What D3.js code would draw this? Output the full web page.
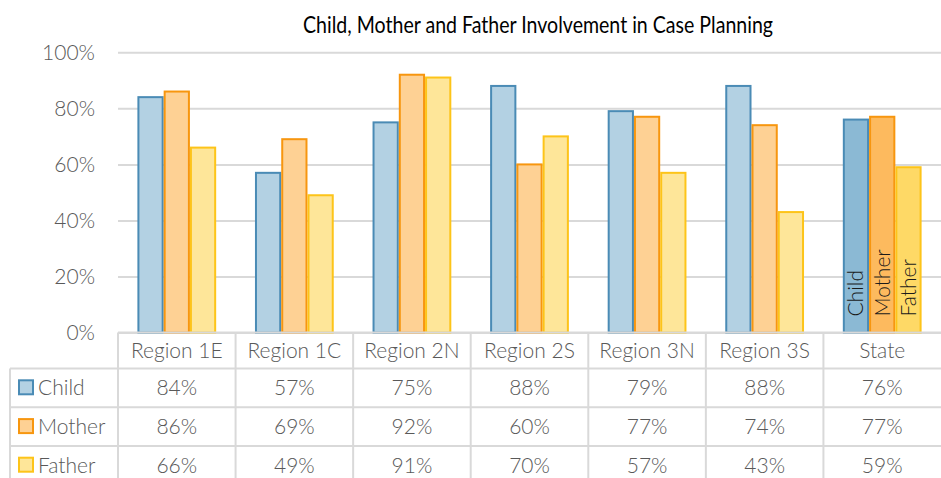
<!DOCTYPE html>
<html>
<head>
<meta charset="utf-8">
<script src="https://cdn.jsdelivr.net/npm/d3@7"></script>
<style>
  body { margin: 0; background: #fff; }
  svg { display: block; font-family: Lato, "Open Sans", sans-serif; }
</style>
</head>
<body>
<div id="chart"></div>
<script>
// chart data
const regions = ['Region 1E', 'Region 1C', 'Region 2N', 'Region 2S', 'Region 3N', 'Region 3S', 'State'];
const seriesNames = ['Child', 'Mother', 'Father'];
const child = [84, 57, 75, 88, 79, 88, 76];
const mother = [86, 69, 92, 60, 77, 74, 77];
const father = [66, 49, 91, 70, 57, 43, 59];
const yTicks = [0, 20, 40, 60, 80, 100];

const values = [child, mother, father];
const fills = ['#b3d1e3', '#fed194', '#fee699'];
const stateFills = ['#8bb9d4', '#fdba5e', '#fed966'];
const strokes = ['#4a8bb5', '#f7960f', '#fdc419'];

const width = 941;
const height = 478;
const plot = { left: 118, right: 941, top: 52.3, bottom: 332.6 };
const rowTops = [332.6, 368.5, 407.3, 445.9];
const rowH = 38.6;
const textGray = '#595959';

const svg = d3.select('#chart')
  .append('svg')
  .attr('width', width)
  .attr('height', height);

const x0 = d3.scaleBand()
  .domain(regions)
  .range([plot.left, plot.right])
  .paddingInner(0.33)
  .paddingOuter(0.165);

const x1 = d3.scaleBand()
  .domain(seriesNames)
  .range([0, x0.bandwidth()]);

const y = d3.scaleLinear().domain([0, 100]).range([plot.bottom, plot.top]);

// title
svg.append('text')
  .attr('x', 303)
  .attr('y', 33)
  .attr('font-size', 24)
  .attr('fill', '#000')
  .attr('textLength', 470)
  .attr('lengthAdjust', 'spacingAndGlyphs')
  .text('Child, Mother and Father Involvement in Case Planning');

// gridlines + tick labels
const yAxis = d3.axisLeft(y)
  .tickValues(yTicks)
  .tickSize(-(plot.right - plot.left))
  .tickFormat((d) => d + '%');

const grid = svg.append('g')
  .attr('transform', `translate(${plot.left}, 0)`)
  .call(yAxis);
grid.select('.domain').remove();
grid.selectAll('line').attr('stroke', '#d9d9d9').attr('stroke-width', 2);
grid.selectAll('text')
  .attr('x', -23)
  .attr('dy', '0.35em')
  .attr('fill', textGray)
  .attr('font-size', 21)
  .attr('font-weight', 300)
  .attr('font-family', 'Lato, sans-serif');

// bars
const groups = svg.append('g')
  .selectAll('g')
  .data(regions)
  .join('g')
  .attr('transform', (d) => `translate(${x0(d)}, 0)`);

groups.selectAll('rect')
  .data((region, i) => seriesNames.map((s, j) => ({ region, series: s, j, value: values[j][i] })))
  .join('rect')
  .attr('x', (d) => x1(d.series) + 1)
  .attr('y', (d) => y(d.value))
  .attr('width', x1.bandwidth() - 2)
  .attr('height', (d) => y(0) - y(d.value))
  .attr('fill', (d) => d.region === 'State' ? stateFills[d.j] : fills[d.j])
  .attr('stroke', (d) => strokes[d.j])
  .attr('stroke-width', 2);

// labels inside state bars
svg.append('g')
  .selectAll('text')
  .data(seriesNames)
  .join('text')
  .attr('transform', (d) => `translate(${x0('State') + x1(d) + x1.bandwidth() / 2}, ${plot.bottom - 16}) rotate(-90)`)
  .attr('dy', '0.35em')
  .attr('font-size', 21)
  .attr('font-weight', 300)
  .attr('fill', '#1a1a1a')
  .text((d) => d);

// data table
const table = svg.append('g');
const lineColor = '#d9d9d9';

// header row top (axis line)
table.append('line')
  .attr('x1', plot.left).attr('x2', width)
  .attr('y1', rowTops[0]).attr('y2', rowTops[0])
  .attr('stroke', lineColor).attr('stroke-width', 2);

// horizontal row lines
table.selectAll('.hrow')
  .data(rowTops.slice(1))
  .join('line')
  .attr('class', 'hrow')
  .attr('x1', 10).attr('x2', width)
  .attr('y1', (d) => d).attr('y2', (d) => d)
  .attr('stroke', lineColor).attr('stroke-width', 2);

// vertical column lines
const colEdges = regions.map((r) => x0(r) - x0.step() * 0.165);
table.selectAll('.vcol')
  .data(colEdges)
  .join('line')
  .attr('class', 'vcol')
  .attr('x1', (d) => d).attr('x2', (d) => d)
  .attr('y1', rowTops[0]).attr('y2', height)
  .attr('stroke', lineColor).attr('stroke-width', 2);

table.append('line')
  .attr('x1', 10).attr('x2', 10)
  .attr('y1', rowTops[1]).attr('y2', height)
  .attr('stroke', lineColor).attr('stroke-width', 2);

// header labels
table.selectAll('.hdr')
  .data(regions)
  .join('text')
  .attr('class', 'hdr')
  .attr('x', (d) => x0(d) + x0.bandwidth() / 2)
  .attr('y', rowTops[0] + 18.5)
  .attr('dy', '0.35em')
  .attr('text-anchor', 'middle')
  .attr('font-size', 21)
  .attr('font-weight', 300)
  .attr('fill', textGray)
  .text((d) => d);

// legend + values rows
seriesNames.forEach((s, j) => {
  const cy = rowTops[j + 1] + rowH / 2;
  table.append('rect')
    .attr('x', 19).attr('y', cy - 7.5)
    .attr('width', 14).attr('height', 14)
    .attr('fill', fills[j])
    .attr('stroke', strokes[j])
    .attr('stroke-width', 2);
  table.append('text')
    .attr('x', 38).attr('y', cy)
    .attr('dy', '0.35em')
    .attr('font-size', 21)
    .attr('font-weight', 300)
    .attr('fill', textGray)
    .text(s);
  table.selectAll('.val' + j)
    .data(values[j])
    .join('text')
    .attr('class', 'val' + j)
    .attr('x', (d, i) => x0(regions[i]) + x0.bandwidth() / 2)
    .attr('y', cy)
    .attr('dy', '0.35em')
    .attr('text-anchor', 'middle')
    .attr('font-size', 21)
    .attr('font-weight', 300)
    .attr('fill', textGray)
    .text((d) => d + '%');
});
</script>
</body>
</html>
